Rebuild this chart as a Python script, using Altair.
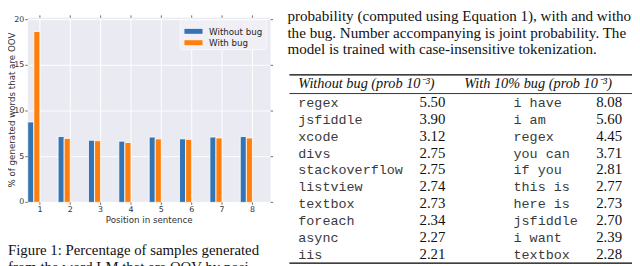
import json
import altair as alt
import pandas as pd

# ---------------- data ----------------
positions = [1, 2, 3, 4, 5, 6, 7, 8]
series_names = ["Without bug", "With bug"]
oov_without_bug = [8.8, 7.2, 6.8, 6.7, 7.15, 6.95, 7.15, 7.2]
oov_with_bug = [18.7, 7.0, 6.75, 6.55, 6.95, 6.9, 7.05, 7.05]
y_tick_values = [0, 5, 10, 15, 20]

words_without_bug = ["regex", "jsfiddle", "xcode", "divs", "stackoverflow",
                     "listview", "textbox", "foreach", "async", "iis"]
prob_without_bug = [5.50, 3.90, 3.12, 2.75, 2.75, 2.74, 2.73, 2.34, 2.27, 2.21]
words_with_bug = ["i have", "i am", "regex", "you can", "if you",
                  "this is", "here is", "jsfiddle", "i want", "textbox"]
prob_with_bug = [8.08, 5.60, 4.45, 3.71, 2.81, 2.77, 2.73, 2.70, 2.39, 2.28]

header_without = "Without bug (prob 10\u207b\u00b3)"
header_with = "With 10% bug (prob 10\u207b\u00b3)"

x_title = "Position in sentence"
y_title = "% of generated words that are OOV"

table_caption = [
    "Table 2: Top 10 generated OOV words by joint character",
    "probability (computed using Equation 1), with and without",
    "the bug. Number accompanying is joint probability. The",
    "model is trained with case-insensitive tokenization.",
]
figure_caption = [
    "Figure 1: Percentage of samples generated",
    "from the word LM that are OOV by posi-",
]

# ---------------- layout / style ----------------
W, H = 632, 258
PX0, PX1 = 20, 266          # plot area x range (px)
PY0, PY1 = 195.2, 8.3       # plot area y range (px)
XDOM = [0.6, 8.6]
YDOM = [0, 20.2]
BAR_W = 0.2

BG = "#EAEAF2"
BLUE = "#3274B5"
ORANGE = "#FF7F0E"
TICK = "#4a4a4a"
LAB = "#303030"
SANS = "DejaVu Sans"
SERIF = "Liberation Serif"
MONO = "Liberation Mono"
INK = "#111111"

xs = alt.Scale(domain=XDOM, range=[PX0, PX1], nice=False, zero=False)
ys = alt.Scale(domain=YDOM, range=[PY0, PY1], nice=False, zero=False)

tick_len_y = 2.5 * (YDOM[1] - YDOM[0]) / (PY0 - PY1)
tick_len_x = 2.5 * (XDOM[1] - XDOM[0]) / (PX1 - PX0)

one = pd.DataFrame({"k": [0]})
pos_df = pd.DataFrame({"position": positions})
ytick_df = pd.DataFrame({"v": y_tick_values})

# ---------------- bar chart group ----------------
background = alt.Chart(one).mark_rect(color=BG).transform_calculate(
    x0=str(XDOM[0]), x1=str(XDOM[1]), y0=str(YDOM[0]), y1=str(YDOM[1])
).encode(
    x=alt.X("x0:Q", scale=xs, axis=None), x2="x1:Q",
    y=alt.Y("y0:Q", scale=ys, axis=None), y2="y1:Q",
)

vgrid = alt.Chart(pos_df).mark_rule(color="white", strokeWidth=1).transform_calculate(
    y0=str(YDOM[0]), y1=str(YDOM[1])
).encode(
    x=alt.X("position:Q", scale=xs, axis=None),
    y=alt.Y("y0:Q", scale=ys, axis=None), y2="y1:Q",
)

hgrid = alt.Chart(ytick_df).mark_rule(color="white", strokeWidth=1).transform_calculate(
    x0=str(XDOM[0]), x1=str(XDOM[1])
).encode(
    y=alt.Y("v:Q", scale=ys, axis=None),
    x=alt.X("x0:Q", scale=xs, axis=None), x2="x1:Q",
)

bars_df = pd.DataFrame({
    "position": positions * 2,
    "series": [series_names[0]] * len(positions) + [series_names[1]] * len(positions),
    "value": oov_without_bug + oov_with_bug,
})
bars = alt.Chart(bars_df).mark_rect(stroke="white", strokeWidth=0.8).transform_calculate(
    k=f"indexof({json.dumps(series_names)}, datum.series)"
).transform_calculate(
    x0=f"datum.position - {2 * BAR_W} + {BAR_W} * datum.k"
).transform_calculate(
    x1=f"datum.x0 + {BAR_W}", base="0"
).encode(
    x=alt.X("x0:Q", scale=xs, axis=None), x2="x1:Q",
    y=alt.Y("value:Q", scale=ys, axis=None), y2="base:Q",
    color=alt.Color("series:N", scale=alt.Scale(domain=series_names, range=[BLUE, ORANGE]), legend=None),
)

# ticks on all four sides (matplotlib style)
top_ticks = alt.Chart(pos_df).mark_rule(color=TICK, strokeWidth=0.8).transform_calculate(
    y0=str(YDOM[1]), y1=str(YDOM[1] + tick_len_y)
).encode(
    x=alt.X("position:Q", scale=xs, axis=None),
    y=alt.Y("y0:Q", scale=ys, axis=None), y2="y1:Q",
)
bottom_ticks = alt.Chart(pos_df).mark_rule(color=TICK, strokeWidth=0.8).transform_calculate(
    y0=str(YDOM[0]), y1=str(YDOM[0] - tick_len_y)
).encode(
    x=alt.X("position:Q", scale=xs, axis=None),
    y=alt.Y("y0:Q", scale=ys, axis=None), y2="y1:Q",
)
right_ticks = alt.Chart(ytick_df).mark_rule(color=TICK, strokeWidth=0.8).transform_calculate(
    x0=str(XDOM[1]), x1=str(XDOM[1] + tick_len_x)
).encode(
    y=alt.Y("v:Q", scale=ys, axis=None),
    x=alt.X("x0:Q", scale=xs, axis=None), x2="x1:Q",
)
left_ticks = alt.Chart(ytick_df).mark_rule(color=TICK, strokeWidth=0.8).transform_calculate(
    x0=str(XDOM[0]), x1=str(XDOM[0] - tick_len_x)
).encode(
    y=alt.Y("v:Q", scale=ys, axis=None),
    x=alt.X("x0:Q", scale=xs, axis=None), x2="x1:Q",
)

# tick labels through the same scales
y_labels = alt.Chart(ytick_df).mark_text(
    font=SANS, fontSize=8, color=LAB, align="right", baseline="middle"
).encode(
    y=alt.Y("v:Q", scale=ys, axis=None),
    x=alt.value(PX0 - 3.5),
    text=alt.Text("v:Q", format="d"),
)
x_labels = alt.Chart(pos_df).mark_text(
    font=SANS, fontSize=8, color=LAB, align="center", baseline="alphabetic"
).encode(
    x=alt.X("position:Q", scale=xs, axis=None),
    y=alt.value(PY0 + 10.1),
    text=alt.Text("position:Q", format="d"),
)
x_title_mark = alt.Chart(one).mark_text(
    text=x_title, font=SANS, fontSize=8.8, color=LAB, align="center", baseline="alphabetic"
).encode(x=alt.value((PX0 + PX1) / 2), y=alt.value(PY0 + 20.6))
y_title_mark = alt.Chart(one).mark_text(
    text=y_title, font=SANS, fontSize=8.8, color=LAB, align="center", baseline="alphabetic",
    angle=270
).encode(x=alt.value(6.8), y=alt.value((PY0 + PY1) / 2))

bar_group = alt.layer(background, vgrid, hgrid, bars, top_ticks, bottom_ticks,
                      right_ticks, left_ticks, y_labels, x_labels,
                      x_title_mark, y_title_mark)

# ---------------- legend, captions, rules (layout layers) ----------------
legend_box = alt.Chart(one).mark_rect(
    fill="#EFEFF5", stroke="#F9F9FB", strokeWidth=1, cornerRadius=2
).encode(x=alt.value(174.5), x2=alt.value(262), y=alt.value(10.5), y2=alt.value(40.5))
legend_sw1 = alt.Chart(one).mark_rect(color=BLUE).encode(
    x=alt.value(178.7), x2=alt.value(197), y=alt.value(19.5), y2=alt.value(24.5))
legend_sw2 = alt.Chart(one).mark_rect(color=ORANGE).encode(
    x=alt.value(178.7), x2=alt.value(197), y=alt.value(31), y2=alt.value(36))
legend_t1 = alt.Chart(one).mark_text(
    text=series_names[0], font=SANS, fontSize=8.8, color="#262626", align="left", baseline="middle"
).encode(x=alt.value(203.7), y=alt.value(22.2))
legend_t2 = alt.Chart(one).mark_text(
    text=series_names[1], font=SANS, fontSize=8.8, color="#262626", align="left", baseline="middle"
).encode(x=alt.value(203.7), y=alt.value(33.7))

CAP_LH = 16.6
cap_right_first = alt.Chart(one).mark_text(
    text=table_caption[0], font=SERIF, fontSize=15.3, color=INK,
    align="left", baseline="alphabetic"
).encode(x=alt.value(283), y=alt.value(-4.6))
cap_right_rest = alt.Chart(one).mark_text(
    text=table_caption[1:], font=SERIF, fontSize=15.3, lineHeight=CAP_LH, color=INK,
    align="left", baseline="alphabetic"
).encode(x=alt.value(283), y=alt.value(-4.6 + CAP_LH))
cap_left_first = alt.Chart(one).mark_text(
    text=figure_caption[0], font=SERIF, fontSize=15, color=INK,
    align="left", baseline="alphabetic"
).encode(x=alt.value(0), y=alt.value(249))
cap_left_second = alt.Chart(one).mark_text(
    text=figure_caption[1], font=SERIF, fontSize=15, color=INK,
    align="left", baseline="alphabetic"
).encode(x=alt.value(0), y=alt.value(249 + 16.5))

head_l = alt.Chart(one).mark_text(
    text=header_without, font=SERIF, fontSize=14.5, fontStyle="italic", color=INK,
    align="left", baseline="alphabetic"
).encode(x=alt.value(294), y=alt.value(79))
head_r = alt.Chart(one).mark_text(
    text=header_with, font=SERIF, fontSize=14.5, fontStyle="italic", color=INK,
    align="left", baseline="alphabetic"
).encode(x=alt.value(462), y=alt.value(79))

rule_top = alt.Chart(one).mark_rule(color="#000", strokeWidth=1.3).encode(
    x=alt.value(285), x2=alt.value(W), y=alt.value(66))
rule_mid = alt.Chart(one).mark_rule(color="#000", strokeWidth=0.8).encode(
    x=alt.value(285), x2=alt.value(W), y=alt.value(85))
rule_bot = alt.Chart(one).mark_rule(color="#000", strokeWidth=1.3).encode(
    x=alt.value(285), x2=alt.value(W), y=alt.value(256.8))

layout_group = alt.layer(legend_box, legend_sw1, legend_sw2, legend_t1, legend_t2,
                         cap_right_first, cap_right_rest, cap_left_first, cap_left_second,
                         head_l, head_r, rule_top, rule_mid, rule_bot)

# ---------------- table cells ----------------
n_rows = len(words_without_bug)
table_df = pd.DataFrame({
    "row": list(range(n_rows)) * 2,
    "side": [0] * n_rows + [1] * n_rows,
    "word": words_without_bug + words_with_bug,
    "prob": prob_without_bug + prob_with_bug,
})
row_scale = alt.Scale(domain=[0, n_rows - 1], range=[98.6, 252.2], nice=False, zero=False)
words = alt.Chart(table_df).mark_text(
    align="left", baseline="alphabetic", font=MONO, fontSize=13.6, color="#3a3a3a"
).encode(
    x=alt.X("side:Q", scale=alt.Scale(domain=[0, 1], range=[294, 512], nice=False, zero=False), axis=None),
    y=alt.Y("row:Q", scale=row_scale, axis=None),
    text="word:N",
)
nums = alt.Chart(table_df).mark_text(
    align="right", baseline="alphabetic", font=SERIF, fontSize=15, color=INK
).encode(
    x=alt.X("side:Q", scale=alt.Scale(domain=[0, 1], range=[443, 622], nice=False, zero=False), axis=None),
    y=alt.Y("row:Q", scale=row_scale, axis=None),
    text=alt.Text("prob:Q", format=".2f"),
)
table_group = alt.layer(words, nums).resolve_scale(x="independent")

chart = alt.layer(bar_group, layout_group, table_group).resolve_scale(
    x="independent", y="independent"
).properties(
    width=W, height=H, autosize=alt.AutoSizeParams(type="none"), padding=0
).configure_view(stroke=None)

chart.save("out.html", embed_options={"renderer": "svg", "actions": False})
